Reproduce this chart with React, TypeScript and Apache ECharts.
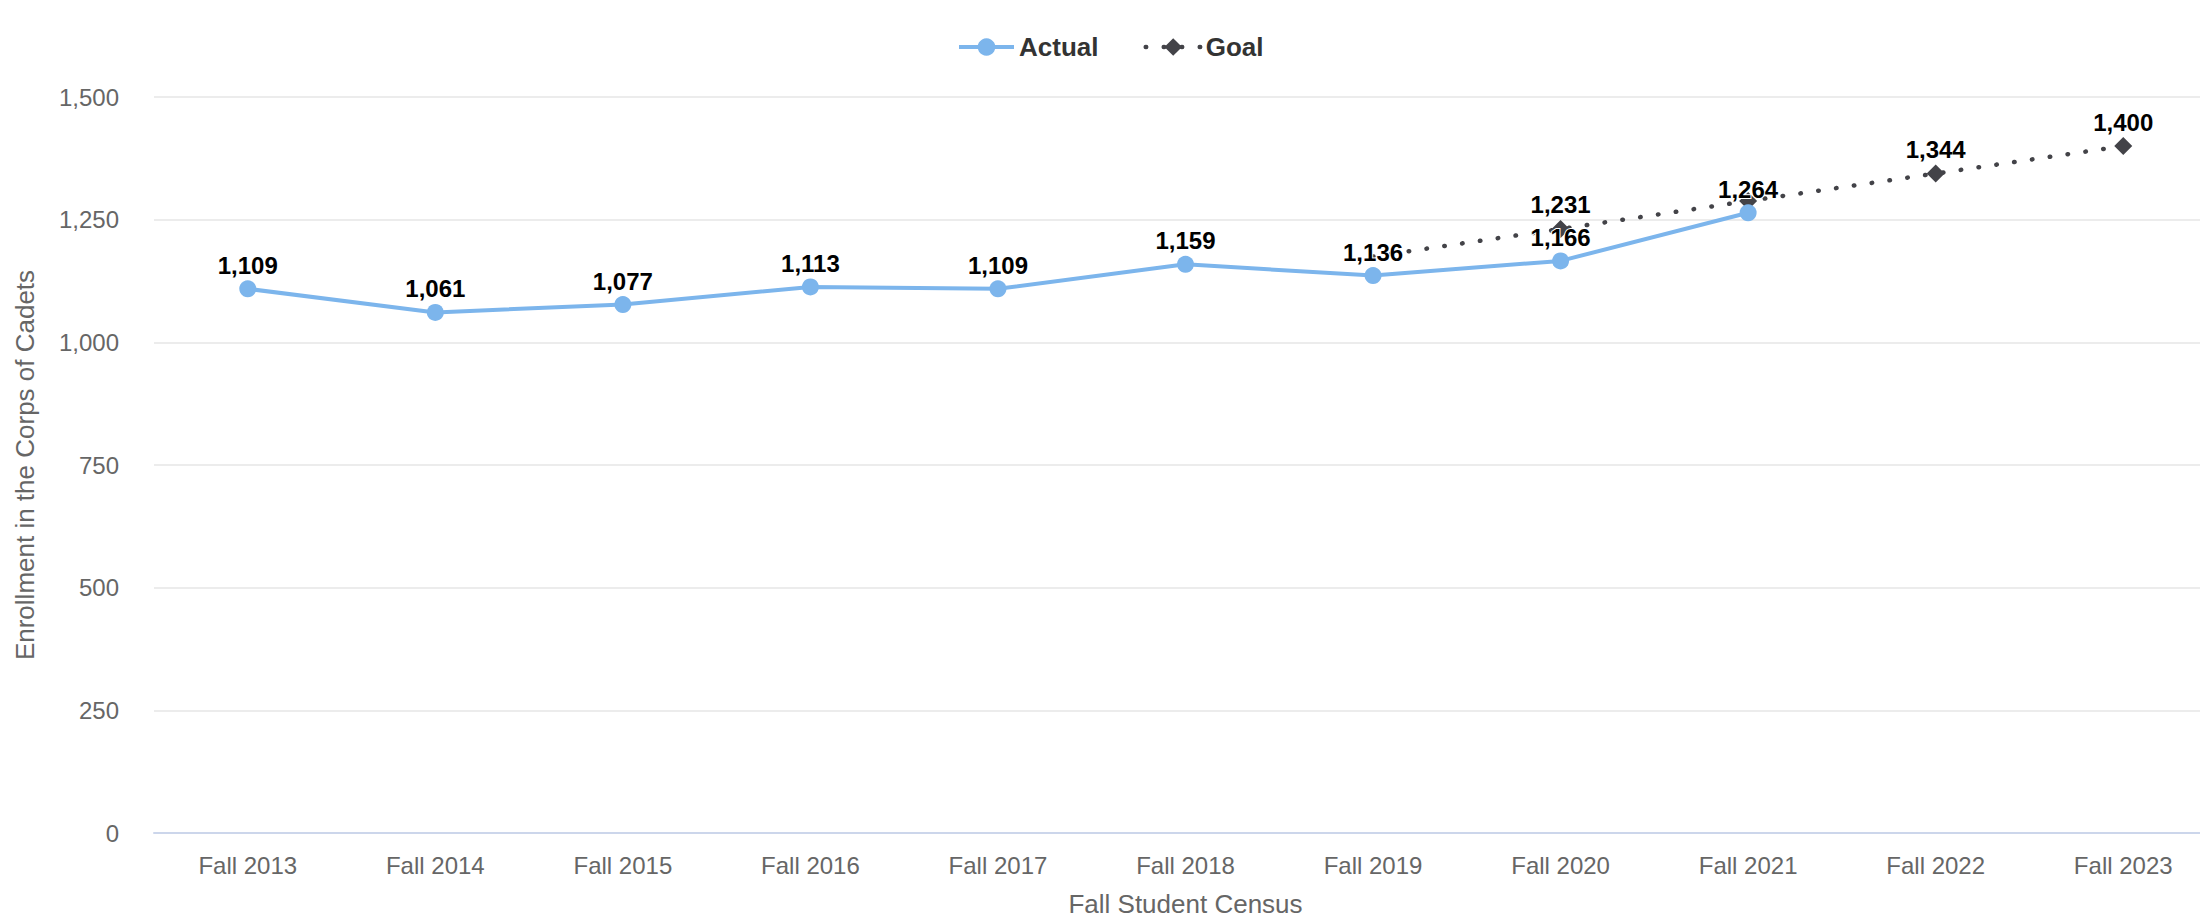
import React, { useEffect, useRef } from "react";
import * as echarts from "echarts";

const categories = [
  "Fall 2013", "Fall 2014", "Fall 2015", "Fall 2016", "Fall 2017", "Fall 2018",
  "Fall 2019", "Fall 2020", "Fall 2021", "Fall 2022", "Fall 2023",
];
const actualValues: (number | null)[] = [1109, 1061, 1077, 1113, 1109, 1159, 1136, 1166, 1264, null, null];
const goalValues: (number | null)[] = [null, null, null, null, null, null, 1175, 1231, 1288, 1344, 1400];
const goalHiddenLabels = ["Fall 2019", "Fall 2021"];
const goalHiddenMarkers = ["Fall 2019"];
const yTicks = { min: 0, max: 1500, interval: 250 };

const FONT = "'Liberation Sans', Arial, Helvetica, sans-serif";
const fmt = (v: number) => v.toLocaleString("en-US");

export default function App() {
  const ref = useRef<HTMLDivElement>(null);
  useEffect(() => {
    if (!ref.current) return;
    const chart = echarts.init(ref.current, undefined, { renderer: "svg" });
    const labelStyle = {
      show: true,
      position: "top" as const,
      distance: 3,
      color: "#000000",
      fontWeight: "bold" as const,
      fontSize: 24,
      fontFamily: FONT,
      textBorderColor: "#ffffff",
      textBorderWidth: 2,
      formatter: (p: any) => fmt(p.value),
    };
    chart.setOption({
      animation: false,
      backgroundColor: "#ffffff",
      textStyle: { fontFamily: FONT },
      legend: {
        left: 952,
        top: 29,
        itemWidth: 55,
        itemHeight: 22,
        itemGap: 45,
        textStyle: { fontSize: 26, fontWeight: "bold", color: "#333333", fontFamily: FONT },
        data: [
          { name: "Actual", lineStyle: { width: 4 } },
          { name: "Goal", lineStyle: { width: 4.5 } },
        ],
      },
      grid: { left: 154, right: 0, top: 97, bottom: 86, containLabel: false },
      xAxis: {
        type: "category",
        data: categories,
        boundaryGap: true,
        name: "Fall Student Census",
        nameLocation: "middle",
        nameGap: 58,
        nameTextStyle: { fontSize: 26, color: "#666666", fontFamily: FONT },
        axisLine: { lineStyle: { color: "#ccd6eb", width: 2 } },
        axisTick: { show: false },
        axisLabel: { color: "#666666", fontSize: 24, margin: 20, fontFamily: FONT },
      },
      yAxis: {
        type: "value",
        min: yTicks.min,
        max: yTicks.max,
        interval: yTicks.interval,
        name: "Enrollment in the Corps of Cadets",
        nameLocation: "middle",
        nameGap: 116,
        nameTextStyle: { fontSize: 26, color: "#666666", fontFamily: FONT },
        axisLine: { show: false },
        axisTick: { show: false },
        axisLabel: {
          color: "#666666",
          fontSize: 24,
          margin: 35,
          padding: [6, 0, 0, 0],
          fontFamily: FONT,
          formatter: (v: number) => fmt(v),
        },
        splitLine: { lineStyle: { color: "#e6e6e6", width: 1.5 } },
      },
      series: [
        {
          name: "Goal",
          type: "line",
          data: goalValues.map((v, i) => {
            const item: any = { value: v };
            if (goalHiddenLabels.includes(categories[i])) item.label = { show: false };
            if (goalHiddenMarkers.includes(categories[i])) item.symbol = "none";
            return item;
          }),
          symbol: "diamond",
          symbolSize: 18,
          itemStyle: { color: "#434348" },
          lineStyle: { color: "#434348", width: 4.5, type: [0.5, 17.5], cap: "round" },
          label: labelStyle,
          z: 2,
        },
        {
          name: "Actual",
          type: "line",
          data: actualValues,
          symbol: "circle",
          symbolSize: 17,
          itemStyle: { color: "#7cb5ec" },
          lineStyle: { color: "#7cb5ec", width: 4 },
          label: labelStyle,
          z: 3,
        },
      ],
    });
    return () => chart.dispose();
  }, []);
  return (
    <div style={{ position: "absolute", left: 0, top: 0, width: 2200, height: 922, overflow: "hidden" }}>
      <div ref={ref} style={{ width: 2217, height: 922 }} />
    </div>
  );
}
